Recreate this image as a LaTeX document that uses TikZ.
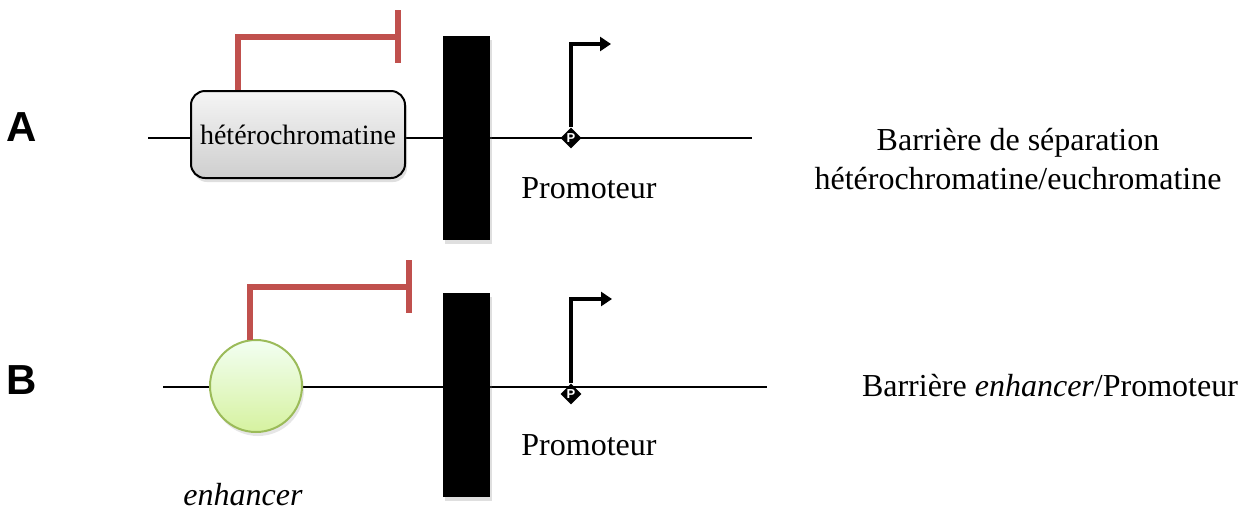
\documentclass[tikz,border=0pt]{standalone}
\usepackage{fontspec}
\setmainfont{Liberation Serif}
\newfontfamily\labfont{Liberation Sans}
\usetikzlibrary{shapes.geometric,shadows,calc,arrows.meta}
\definecolor{inhred}{HTML}{C0504D}
\definecolor{enhborder}{HTML}{9BBB59}
\tikzset{
  dna/.style={line width=1pt, black},
  hetbox/.style={draw=black, line width=1pt, rounded corners=7pt, minimum width=107pt, minimum height=43.5pt,
     top color=gray!8, bottom color=gray!38, drop shadow={opacity=0.25, shadow xshift=1pt, shadow yshift=-2pt},
     font=\fontsize{14}{17}\selectfont, inner sep=0pt},
  enhcircle/.style={circle, draw=enhborder, line width=1pt, minimum size=46pt, inner sep=0pt,
     top color=green!5!white, bottom color={rgb,255:red,214;green,242;blue,160},
     drop shadow={opacity=0.2, shadow xshift=1pt, shadow yshift=-2pt}},
  barrier/.style={fill=black, draw=none, minimum width=23.5pt, minimum height=102pt, inner sep=0pt,
     drop shadow={opacity=0.25, shadow xshift=1pt, shadow yshift=-2pt}},
  prom/.style={diamond, fill=black, minimum size=10.5pt, inner sep=0pt, text=white, font=\labfont\bfseries\fontsize{6.5}{7}\selectfont},
  inhib/.style={inhred, line width=2.6pt},
  tss/.style={black, line width=2pt, -{Triangle[length=5.5pt,width=7pt]}},
  txt/.style={font=\fontsize{16}{19.5}\selectfont, inner sep=0pt},
  panel/.style={font=\labfont\bfseries\fontsize{21}{24}\selectfont, inner sep=0pt},
}
\begin{document}
\begin{tikzpicture}[x=0.5pt, y=-0.5pt]
\useasboundingbox (0,0) rectangle (1249,510);
% ---------------- Panel A ----------------
\node[panel] (A) at (22,127) {A};
\coordinate (la) at (148,138);
\coordinate (lb) at (752,138);
\draw[dna] (la) -- (lb);
\node[hetbox] (het) at (298,134.5) {hétérochromatine};
\node[barrier] (barA) at (466.5,138) {};
\node[prom] (pA) at (571,138) {P};
\coordinate (inhAt) at (398,37);
\coordinate (inhAb1) at (398,10);
\coordinate (inhAb2) at (398,63);
\draw[inhib] ($(het.north west)+(48,0)$) |- (inhAt);
\draw[inhib] (inhAb1) -- (inhAb2);
\coordinate (tssA) at (611,44);
\draw[tss] (pA.north) |- (tssA);
\node[txt] (promA) at (589,188) {Promoteur};
\node[txt, align=center] (descA) at (1018,159) {Barrière de séparation\\hétérochromatine/euchromatine};
% ---------------- Panel B ----------------
\node[panel] (B) at (22,380) {B};
\coordinate (lc) at (163,387);
\coordinate (ld) at (767,387);
\draw[dna] (lc) -- (ld);
\node[enhcircle] (enh) at (256,386) {};
\node[barrier] (barB) at (466.5,395) {};
\node[prom] (pB) at (571,394) {P};
\coordinate (inhBt) at (409,287);
\coordinate (inhBb1) at (409,260);
\coordinate (inhBb2) at (409,313);
\draw[inhib] ($(enh.center)+(-6,-46)$) |- (inhBt);
\draw[inhib] (inhBb1) -- (inhBb2);
\coordinate (tssB) at (612,299);
\draw[tss] (pB.north) |- (tssB);
\node[txt] (promB) at (589,445) {Promoteur};
\node[txt] (enhlab) at (243,495) {\textit{enhancer}};
\node[txt] (descB) at (1050,386) {Barrière \textit{enhancer}/Promoteur};
\end{tikzpicture}
\end{document}
